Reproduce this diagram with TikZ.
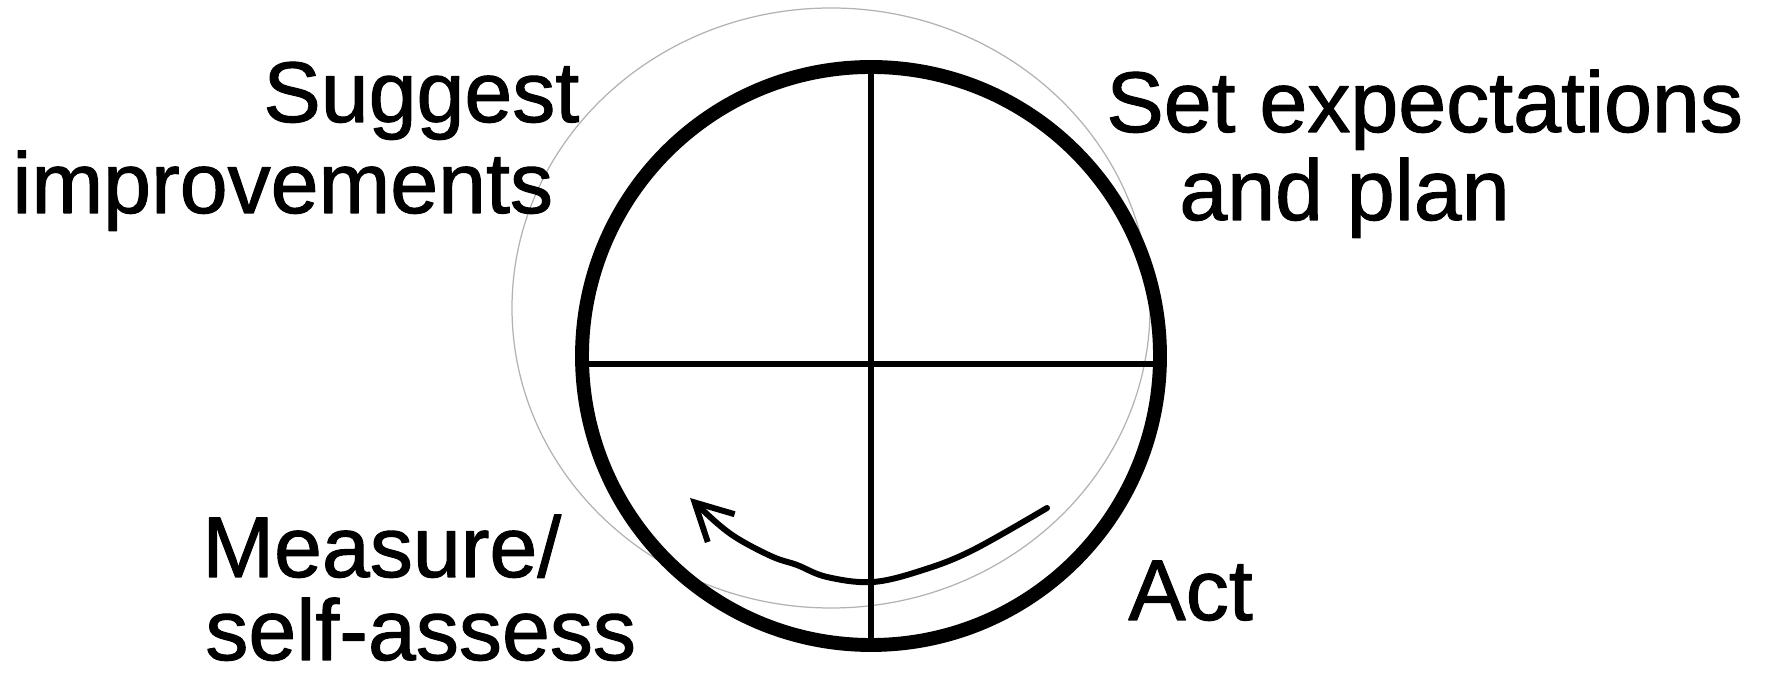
\documentclass[tikz,border=0pt]{standalone}
\usepackage{fontspec}
\setmainfont{Liberation Sans}
\newfontfamily\tagfont{Liberation Sans}[FakeBold=1.2]
\usepackage{tikz}
\usetikzlibrary{arrows.meta}
\tikzset{
  every picture/.style={line join=round, line cap=round, >={Straight Barb[length=21pt,width=22pt]}},
  rim/.style={line width=7.9pt},
  spoke/.style={line width=3.2pt},
  halo/.style={draw=black!30, line width=0.7pt},
  turn/.style={line width=3.4pt},
  tag/.style={inner sep=0pt, anchor=base west, font=\tagfont\fontsize{49}{58}\selectfont},
}

\begin{document}
\begin{tikzpicture}
\useasboundingbox (0,0) rectangle (35.34,13.46);
% faint ring behind the wheel
\draw[halo] (16.62,7.30) ellipse (6.38 and 6.0);
\draw[rim] (17.42,6.34) circle (5.78);
\coordinate (w) at (11.64,6.18);
\coordinate (e) at (23.20,6.18);
\coordinate (n) at (17.42,12.18);
\coordinate (s) at (17.42,0.50);
\draw[spoke] (w) -- (e);
\draw[spoke] (n) -- (s);
% hand drawn arrow
\coordinate (from) at (20.94,3.30);
\coordinate (to) at (13.80,3.50);
\draw[turn,->] plot[smooth,tension=0.6] coordinates {(from) (19.46,2.46) (18.46,2.06) (17.46,1.82) (16.54,1.92) (15.94,2.16) (15.46,2.32) (14.80,2.66) (14.36,2.98) (to)};
\node[tag] (sug) at (5.26,11.02) {Suggest};
\node[tag] (imp) at (0.24,9.20) {improvements};
\node[tag] (set) at (22.12,10.82) {Set expectations};
\node[tag] (plan) at (23.58,9.06) {and plan};
\node[tag] (meas) at (4.04,1.92) {Measure/};
\node[tag] (self) at (4.10,0.26) {self-assess};
\node[tag] (act) at (22.56,1.06) {Act};
\end{tikzpicture}
\end{document}
